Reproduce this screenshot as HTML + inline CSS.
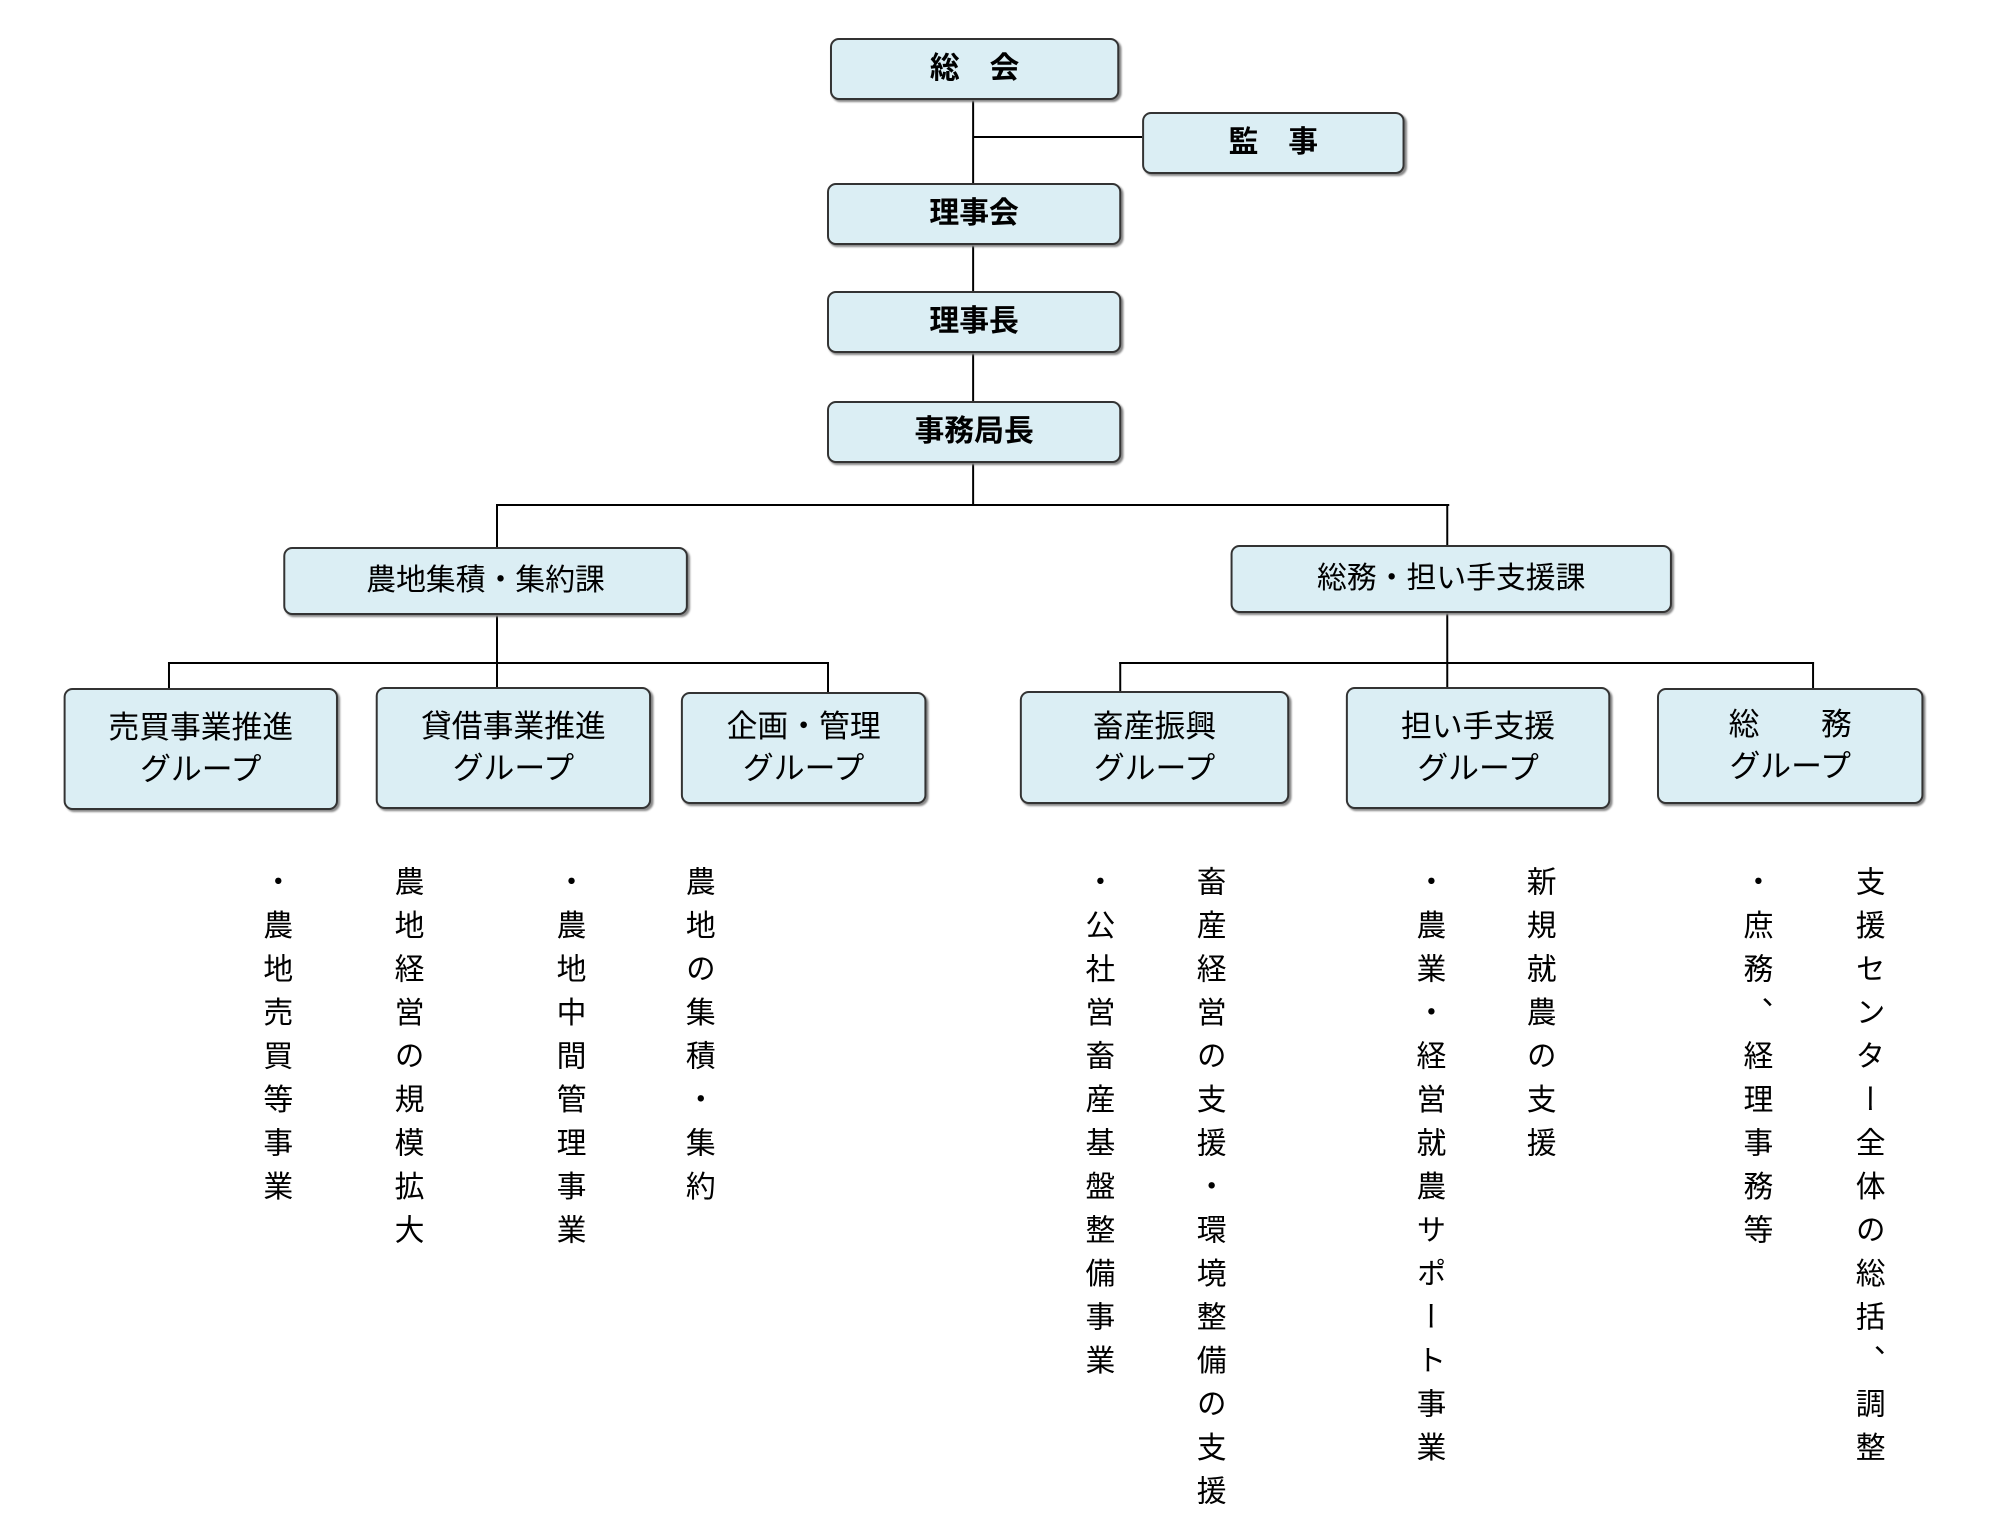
<!DOCTYPE html>
<html><head><meta charset="utf-8">
<style>
body{margin:0;width:2000px;height:1521px;background:#fff;position:relative;overflow:hidden;font-family:"Liberation Sans","Noto Sans CJK JP",sans-serif;color:#000}
#w{position:absolute;left:0;top:0;width:2000px;height:1521px;transform:scaleX(0.994);transform-origin:0 0}
.b{position:absolute;box-sizing:border-box;background:#dbeef4;border:2.5px solid #333;border-radius:9px;box-shadow:2px 2px 2px #888;display:flex;align-items:center;justify-content:center;text-align:center;font-size:30px;line-height:1.4;font-weight:bold}
.g{font-size:31px;line-height:1.35;font-weight:normal}
.l{position:absolute;background:#000}
.v{position:absolute;top:866px;writing-mode:vertical-rl;font-size:30px;letter-spacing:13.5px;line-height:1;transform:translateX(-50%)}
</style></head><body><div id="w">
<div class="l" style="left:978px;top:100px;width:2px;height:405px"></div>
<div class="l" style="left:979px;top:136px;width:170px;height:2px"></div>
<div class="l" style="left:499px;top:504px;width:959px;height:2px"></div>
<div class="l" style="left:499px;top:504px;width:2px;height:44px"></div>
<div class="l" style="left:1455px;top:504px;width:2px;height:42px"></div>
<div class="l" style="left:499px;top:614px;width:2px;height:75px"></div>
<div class="l" style="left:1455px;top:612px;width:2px;height:76px"></div>
<div class="l" style="left:169px;top:662px;width:665px;height:2px"></div>
<div class="l" style="left:169px;top:662px;width:2px;height:27px"></div>
<div class="l" style="left:832px;top:662px;width:2px;height:31px"></div>
<div class="l" style="left:1126px;top:662px;width:699px;height:2px"></div>
<div class="l" style="left:1126px;top:662px;width:2px;height:30px"></div>
<div class="l" style="left:1823px;top:662px;width:2px;height:27px"></div>
<div class="b" style="left:835px;top:38px;width:291px;height:62px">総　会</div>
<div class="b" style="left:1149px;top:112px;width:264px;height:62px">監　事</div>
<div class="b" style="left:832px;top:183px;width:296px;height:62px">理事会</div>
<div class="b" style="left:832px;top:291px;width:296px;height:62px">理事長</div>
<div class="b" style="left:832px;top:401px;width:296px;height:62px">事務局長</div>
<div class="b" style="left:285px;top:547px;width:407px;height:68px;font-weight:normal">農地集積・集約課</div>
<div class="b" style="left:1238px;top:545px;width:444px;height:68px;font-weight:normal">総務・担い手支援課</div>
<div class="b g" style="left:64px;top:688px;width:276px;height:122px">売買事業推進<br>グループ</div>
<div class="b g" style="left:378px;top:687px;width:277px;height:122px">貸借事業推進<br>グループ</div>
<div class="b g" style="left:685px;top:692px;width:247px;height:112px">企画・管理<br>グループ</div>
<div class="b g" style="left:1026px;top:691px;width:271px;height:113px">畜産振興<br>グループ</div>
<div class="b g" style="left:1354px;top:687px;width:266px;height:122px">担い手支援<br>グループ</div>
<div class="b g" style="left:1667px;top:688px;width:268px;height:116px">総　　務<br>グループ</div>
<div class="v" style="left:276px">・農地売買等事業</div>
<div class="v" style="left:408px">農地経営の規模拡大</div>
<div class="v" style="left:571px">・農地中間管理事業</div>
<div class="v" style="left:701px">農地の集積・集約</div>
<div class="v" style="left:1103px">・公社営畜産基盤整備事業</div>
<div class="v" style="left:1215px">畜産経営の支援・環境整備の支援</div>
<div class="v" style="left:1436px">・農業・経営就農サポート事業</div>
<div class="v" style="left:1547px">新規就農の支援</div>
<div class="v" style="left:1765px">・庶務、経理事務等</div>
<div class="v" style="left:1878px">支援センター全体の総括、調整</div>
</div></body></html>
